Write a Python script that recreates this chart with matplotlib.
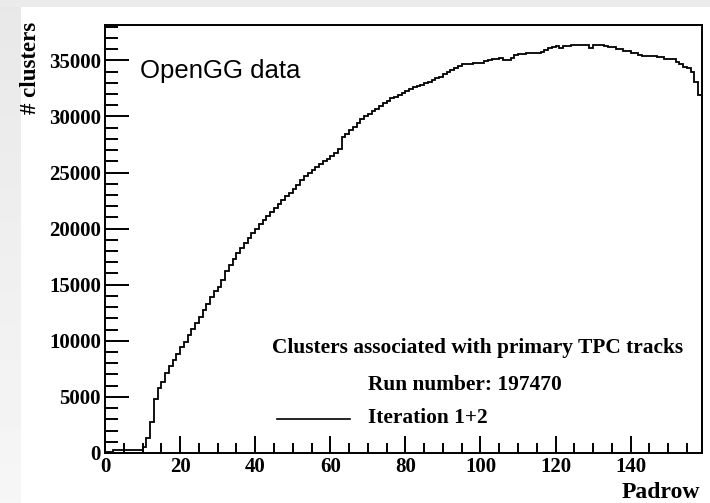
import numpy as np
import matplotlib.pyplot as plt
from matplotlib.patches import Rectangle
from matplotlib.ticker import MultipleLocator

# clusters per padrow (bins 0..158)
padrow_edges = np.arange(0, 160)
n_clusters = [
    80, 80, 300, 300, 300, 300, 300, 300, 300, 300,
    560, 1360, 2790, 4810, 5770, 6350, 7160, 7780, 8290, 8820,
    9470, 9920, 10520, 11030, 11620, 12150, 12750, 13280, 13930, 14470,
    14770, 15420, 16250, 16730, 17260, 17800, 18250, 18700, 19150, 19600,
    20000, 20400, 20760, 21150, 21500, 21850, 22200, 22550, 22900, 23200,
    23550, 23900, 24300, 24650, 24950, 25250, 25500, 25750, 26000, 26250,
    26500, 26750, 27100, 28150, 28450, 28800, 29100, 29400, 29750, 30000,
    30250, 30500, 30700, 30950, 31200, 31400, 31600, 31750, 31900, 32050,
    32250, 32450, 32600, 32750, 32800, 32950, 33100, 33250, 33400, 33550,
    33750, 33950, 34150, 34350, 34500, 34650, 34700, 34700, 34720, 34720,
    34750, 34900, 35050, 35100, 35150, 35170, 35000, 35050, 35250, 35450,
    35600, 35600, 35620, 35620, 35620, 35620, 35760, 35900, 36060, 36150,
    36260, 36060, 36260, 36260, 36380, 36380, 36380, 36380, 36380, 36130,
    36380, 36380, 36380, 36300, 36200, 36200, 36000, 36000, 35820, 35820,
    35670, 35670, 35520, 35370, 35370, 35370, 35370, 35260, 35260, 35100,
    35080, 35080, 34860, 34630, 34450, 34330, 33950, 33100, 31900,
]

W, H = 710, 503
fig = plt.figure(figsize=(W / 100, H / 100), dpi=100, facecolor='#ebebeb')

# white panel + light gradient strip on the left
fig.patches.append(Rectangle((21 / W, 0), 1 - 21 / W, 1 - 7 / H, transform=fig.transFigure,
                             facecolor='white', edgecolor='none', zorder=-5))
gax = fig.add_axes([0, 0, 21 / W, 1 - 7 / H])
gax.imshow(np.linspace(0.91, 0.965, 100).reshape(-1, 1), cmap='gray', vmin=0, vmax=1,
           aspect='auto', extent=[0, 1, 0, 1])
gax.axis('off')

ax = fig.add_axes([105 / W, 50 / H, 597 / W, 428 / H])
ax.stairs(n_clusters, padrow_edges, color='black', linewidth=1.3)
ax.set_xlim(0, 159)
ax.set_ylim(0, 38150)

serif_bold = dict(family='Liberation Serif', fontweight='bold')

ax.xaxis.set_major_locator(MultipleLocator(20))
ax.xaxis.set_minor_locator(MultipleLocator(5))
ax.yaxis.set_major_locator(MultipleLocator(5000))
ax.yaxis.set_minor_locator(MultipleLocator(1000))
ax.tick_params(axis='x', which='major', direction='in', length=12, width=1.4, pad=3)
ax.tick_params(axis='x', which='minor', direction='in', length=7, width=1.4)
ax.tick_params(axis='y', which='major', direction='in', length=17, width=1.4, pad=3)
ax.tick_params(axis='y', which='minor', direction='in', length=9, width=1.4)
for lab in ax.get_xticklabels() + ax.get_yticklabels():
    lab.set_fontfamily('Liberation Serif')
    lab.set_fontweight('bold')
    lab.set_fontsize(15)
for s in ax.spines.values():
    s.set_linewidth(1.4)

fig.text(30 / W, 1 - 22 / H, '# clusters', rotation=90, ha='center', va='top', fontsize=16.5, **serif_bold)
fig.text(700 / W, 1 - 503 / H, 'Padrow', ha='right', va='bottom', fontsize=17, **serif_bold)

ax.text(0.0586, 0.8925, 'OpenGG data', transform=ax.transAxes, ha='left', va='center',
        fontsize=18.5, family='Liberation Sans')

ax.text(0.624, 0.245, 'Clusters associated with primary TPC tracks', transform=ax.transAxes,
        ha='center', va='center', fontsize=15.4, **serif_bold)
ax.text(0.603, 0.159, 'Run number: 197470', transform=ax.transAxes,
        ha='center', va='center', fontsize=15.4, **serif_bold)
ax.text(0.4405, 0.082, 'Iteration 1+2', transform=ax.transAxes,
        ha='left', va='center', fontsize=15.4, **serif_bold)
ax.plot([0.288, 0.410], [0.079, 0.079], transform=ax.transAxes, color='black', linewidth=1.2)

fig.savefig('out.png', dpi=100, facecolor=fig.get_facecolor())
